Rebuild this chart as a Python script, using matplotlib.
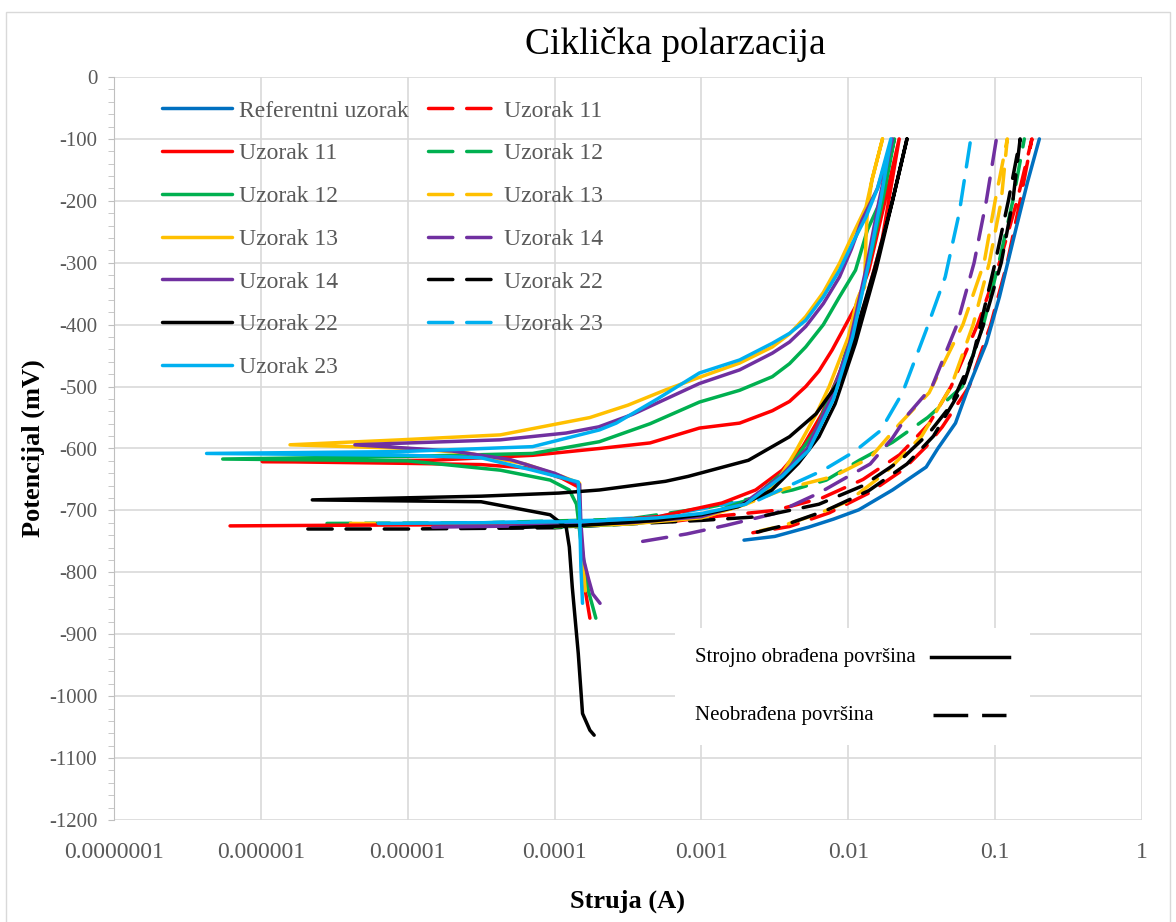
import matplotlib
matplotlib.use("Agg")
import matplotlib.pyplot as plt
from matplotlib.lines import Line2D
from matplotlib.patches import Rectangle
from matplotlib.ticker import FixedLocator, MultipleLocator, FuncFormatter, NullLocator

plt.rcParams["font.family"] = ["Liberation Serif", "DejaVu Serif"]
plt.rcParams["axes.unicode_minus"] = False

# --- data: current (A), potential (mV) ---
ref_i = [1.95e-3, 3.16e-3, 5.37e-3, 7.94e-3, 1.18e-2, 2.0e-2, 3.39e-2, 4.07e-2,
         5.37e-2, 6.61e-2, 8.71e-2, 0.107, 0.138, 0.166, 0.200]
ref_e = [-748, -742, -727, -714, -699, -667, -630, -600, -559, -500, -430, -355, -247, -170, -100]

# machined surface (solid): forward scan, then reverse scan
s11_i = [6.17e-7, 3.16e-6, 3.16e-5, 1.58e-4, 5.13e-4, 1.38e-3, 2.34e-3, 3.55e-3, 4.90e-3, 6.61e-3,
         7.76e-3, 1.02e-2, 1.32e-2, 1.70e-2, 2.22e-2,
         1.74e-2, 1.38e-2, 1.12e-2, 7.76e-3, 6.31e-3, 5.13e-3, 3.98e-3, 3.04e-3, 1.82e-3, 9.69e-4,
         4.47e-4, 2.02e-4,
         7.08e-5, 1.48e-5, 1.02e-6, 1.0e-5, 3.16e-5, 7.08e-5, 1.12e-4, 1.45e-4, 1.51e-4, 1.62e-4, 1.74e-4]
s11_e = [-725, -724, -723, -720, -710, -688, -667, -635, -597, -544,
         -506, -440, -360, -263, -100,
         -210, -312, -371, -441, -475, -500, -524, -539, -559, -567,
         -591, -600,
         -611, -619, -621, -624, -626, -632, -648, -662, -750, -830, -874]

s12_i = [1.0e-4, 3.16e-4, 1.0e-3, 2.24e-3, 3.98e-3, 6.03e-3, 8.71e-3, 1.15e-2, 1.48e-2, 1.78e-2, 2.06e-2,
         1.66e-2, 1.35e-2, 1.12e-2, 8.71e-3, 6.76e-3, 5.13e-3, 3.98e-3, 3.04e-3, 1.82e-3, 9.69e-4,
         4.47e-4, 2.02e-4,
         7.08e-5, 8.91e-6, 5.50e-7, 1.0e-5, 1.48e-5, 4.27e-5, 9.33e-5, 1.26e-4, 1.41e-4, 1.51e-4, 1.70e-4, 1.91e-4]
s12_e = [-727, -722, -710, -680, -630, -570, -480, -380, -270, -180, -100,
         -200, -247, -312, -355, -400, -436, -463, -484, -506, -525,
         -560, -589,
         -608, -613, -617, -620, -624, -635, -651, -667, -690, -750, -830, -874]

s13_i = [1.0e-4, 3.16e-4, 1.0e-3, 2.0e-3, 3.16e-3, 4.37e-3, 6.03e-3, 7.41e-3, 1.0e-2, 1.15e-2, 1.20e-2,
         1.29e-2, 1.32e-2, 1.35e-2, 1.45e-2, 1.71e-2,
         1.45e-2, 1.32e-2, 1.07e-2, 8.71e-3, 6.76e-3, 5.13e-3, 3.98e-3, 3.04e-3, 1.82e-3, 9.69e-4,
         5.75e-4, 3.16e-4, 1.74e-4,
         4.27e-5, 8.91e-6, 1.58e-6, 1.0e-5, 2.51e-5, 6.31e-5, 1.12e-4, 1.48e-4, 1.48e-4, 1.55e-4, 1.62e-4]
s13_e = [-726, -722, -712, -690, -660, -605, -545, -500, -420, -360, -349,
         -340, -260, -215, -166, -100,
         -166, -210, -255, -301, -348, -387, -415, -436, -462, -485,
         -505, -530, -550,
         -578, -586, -594, -600, -607, -625, -645, -656, -700, -780, -830]

s14_i = [1.48e-5, 6.31e-5, 3.16e-4, 1.0e-3, 1.91e-3, 3.47e-3, 5.25e-3, 7.59e-3, 1.02e-2, 1.32e-2, 1.62e-2, 2.0e-2,
         1.58e-2, 1.24e-2, 1.05e-2, 8.71e-3, 6.76e-3, 5.13e-3, 3.98e-3, 3.04e-3, 1.82e-3, 9.69e-4,
         3.39e-4, 2.0e-4, 1.20e-4,
         4.27e-5, 4.37e-6, 2.0e-5, 5.01e-5, 1.0e-4, 1.48e-4, 1.51e-4, 1.58e-4, 1.70e-4, 1.82e-4, 2.04e-4]
s14_e = [-727, -725, -720, -710, -690, -645, -600, -520, -430, -310, -200, -100,
         -180, -231, -278, -323, -366, -403, -428, -446, -473, -495,
         -545, -565, -575,
         -586, -594, -604, -618, -640, -658, -720, -780, -810, -835, -850]

s22_i = [5.01e-5, 1.58e-4, 5.01e-4, 1.0e-3, 1.78e-3, 3.02e-3, 4.57e-3, 6.31e-3, 8.13e-3, 1.12e-2, 1.55e-2,
         2.0e-2, 2.51e-2,
         2.0e-2, 1.51e-2, 1.07e-2, 8.71e-3, 6.03e-3, 3.98e-3, 2.09e-3, 8.13e-4, 5.69e-4, 2.02e-4, 1.07e-4,
         3.16e-5, 2.24e-6, 3.16e-5, 9.33e-5, 1.20e-4, 1.26e-4, 1.32e-4, 1.45e-4, 1.55e-4, 1.74e-4, 1.86e-4]
s22_e = [-728, -724, -716, -707, -694, -667, -624, -581, -528, -430, -310,
         -200, -100,
         -200, -310, -430, -491, -544, -581, -619, -645, -653, -667, -672,
         -677, -683, -686, -707, -727, -759, -824, -931, -1028, -1055, -1063]

s23_i = [6.31e-6, 3.16e-5, 1.58e-4, 5.01e-4, 1.0e-3, 2.0e-3, 3.55e-3, 5.37e-3, 7.94e-3, 1.07e-2, 1.38e-2,
         1.66e-2, 1.95e-2,
         1.58e-2, 1.32e-2, 1.07e-2, 8.71e-3, 6.76e-3, 5.13e-3, 3.98e-3, 3.04e-3, 1.82e-3, 9.69e-4,
         5.01e-4, 2.63e-4, 2.02e-4,
         7.08e-5, 8.91e-6, 4.27e-7, 1.0e-5, 3.16e-5, 7.08e-5, 1.45e-4, 1.48e-4, 1.51e-4, 1.55e-4]
s23_e = [-721, -720, -718, -712, -705, -690, -645, -603, -520, -420, -300,
         -200, -100,
         -180, -226, -268, -312, -355, -393, -414, -430, -457, -478,
         -520, -559, -570,
         -597, -605, -608, -611, -615, -635, -654, -700, -790, -850]

# untreated surface (dashed): forward scan, then reverse scan
u11_i = [3.16e-5, 1.58e-4, 6.31e-4, 1.0e-3, 3.16e-3, 6.61e-3, 1.26e-2, 2.24e-2, 3.55e-2, 5.01e-2,
         7.59e-2, 0.107, 0.141, 0.178,
         0.148, 0.121, 9.33e-2, 6.65e-2, 4.37e-2, 3.39e-2, 2.34e-2, 1.38e-2, 7.41e-3, 3.98e-3, 2.24e-3]
u11_e = [-724, -722, -718, -712, -700, -680, -650, -610, -560, -500,
         -400, -300, -200, -100,
         -200, -300, -400, -500, -565, -597, -635, -672, -704, -726, -736]

u12_i = [2.82e-6, 3.16e-5, 3.16e-4, 1.12e-3, 4.17e-3, 7.08e-3, 1.19e-2, 2.0e-2, 3.47e-2, 5.97e-2,
         8.32e-2, 0.106, 0.132, 0.158]
u12_e = [-721, -720, -714, -695, -667, -651, -619, -590, -550, -500, -400, -300, -200, -100]

u13_i = [4.07e-6, 3.16e-5, 3.16e-4, 1.0e-3, 2.0e-3, 3.72e-3, 7.94e-3, 1.41e-2, 2.24e-2, 3.55e-2,
         6.03e-2, 8.41e-2, 0.100, 0.121,
         0.110, 9.12e-2, 7.08e-2, 5.01e-2, 3.16e-2, 1.78e-2, 1.0e-2, 6.31e-3, 3.55e-3, 2.51e-3]
u13_e = [-721, -722, -720, -712, -690, -665, -645, -615, -560, -510,
         -400, -300, -200, -100,
         -200, -300, -400, -500, -580, -640, -685, -705, -725, -733]

u14_i = [3.98e-4, 7.94e-4, 1.48e-3, 3.16e-3, 6.31e-3, 1.0e-2, 1.41e-2, 2.0e-2, 2.57e-2, 3.72e-2,
         5.50e-2, 7.19e-2, 8.71e-2, 0.102]
u14_e = [-750, -738, -724, -705, -672, -645, -625, -583, -544, -500, -400, -300, -200, -100]

u22_i = [2.09e-6, 1.0e-5, 1.0e-4, 3.09e-4, 1.02e-3, 2.51e-3, 6.31e-3, 1.26e-2, 2.24e-2, 3.55e-2,
         5.01e-2, 7.08e-2, 0.100, 0.123, 0.148,
         0.132, 0.110, 8.32e-2, 6.03e-2, 3.80e-2, 2.51e-2, 1.38e-2, 7.08e-3, 3.55e-3, 2.40e-3]
u22_e = [-730, -730, -728, -722, -716, -710, -690, -660, -620, -575,
         -530, -450, -300, -200, -100,
         -200, -300, -400, -500, -580, -625, -668, -700, -725, -735]

u23_i = [6.31e-6, 3.16e-5, 1.82e-4, 5.13e-4, 1.48e-3, 2.45e-3, 3.72e-3, 6.76e-3, 1.10e-2, 1.66e-2,
         2.34e-2, 3.39e-2, 4.57e-2, 5.69e-2, 6.82e-2]
u23_e = [-722, -720, -716, -710, -690, -683, -663, -635, -605, -571, -510, -409, -323, -220, -100]

samples = ["Uzorak 11", "Uzorak 12", "Uzorak 13", "Uzorak 14", "Uzorak 22", "Uzorak 23"]
colors = ["#FF0000", "#00B050", "#FFC000", "#7030A0", "#000000", "#00B0F0"]
solid = [(s11_i, s11_e), (s12_i, s12_e), (s13_i, s13_e), (s14_i, s14_e), (s22_i, s22_e), (s23_i, s23_e)]
dashed = [(u11_i, u11_e), (u12_i, u12_e), (u13_i, u13_e), (u14_i, u14_e), (u22_i, u22_e), (u23_i, u23_e)]

x_ticks = [1e-7, 1e-6, 1e-5, 1e-4, 1e-3, 1e-2, 1e-1, 1]
x_labels = ["0.0000001", "0.000001", "0.00001", "0.0001", "0.001", "0.01", "0.1", "1"]

LW = 2.5
DASH = (0, (7, 4))
GRID = "#D9D9D9"
GREY = "#595959"

fig = plt.figure(figsize=(11.76, 9.22), dpi=100)
ax = fig.add_axes([114 / 1176, 1 - 820 / 922, 1028 / 1176, 743 / 922])

handles_solid, handles_dashed = [], []
for (xi, ye), c, name in zip(dashed, colors, samples):
    h, = ax.plot(xi, ye, color=c, lw=LW, ls=DASH, dash_capstyle="round", dash_joinstyle="round", label=name)
    handles_dashed.append(h)
for (xi, ye), c, name in zip(solid, colors, samples):
    h, = ax.plot(xi, ye, color=c, lw=LW, solid_capstyle="round", solid_joinstyle="round", label=name)
    handles_solid.append(h)
h_ref, = ax.plot(ref_i, ref_e, color="#0070C0", lw=LW, solid_capstyle="round", label="Referentni uzorak")

ax.set_xscale("log")
ax.set_xlim(1e-7, 1)
ax.set_ylim(-1200, 0)
ax.xaxis.set_major_locator(FixedLocator(x_ticks))
ax.xaxis.set_minor_locator(NullLocator())
ax.set_xticklabels(x_labels)
ax.yaxis.set_major_locator(MultipleLocator(100))
ax.yaxis.set_minor_locator(MultipleLocator(20))
ax.yaxis.set_major_formatter(FuncFormatter(lambda v, p: "%d" % v))

ax.grid(True, which="major", color=GRID, lw=1.2)
ax.set_axisbelow(True)
for s in ["top", "right", "bottom"]:
    ax.spines[s].set_visible(False)
ax.spines["left"].set_color("#BFBFBF")
ax.tick_params(axis="x", length=0, labelsize=17, labelcolor=GREY, pad=16)
ax.tick_params(axis="y", which="both", length=4, color="#BFBFBF", labelsize=15, labelcolor=GREY, pad=8)

ax.set_xlabel("Struja (A)", fontsize=19, fontweight="bold", labelpad=19)
ax.set_ylabel("Potencijal (mV)", fontsize=19, fontweight="bold", labelpad=3)
fig.text(675 / 1176, 1 - 45 / 922, "Ciklička polarzacija", fontsize=27, ha="center", va="center")

leg = ax.legend([h_ref] + handles_solid + handles_dashed,
                ["Referentni uzorak"] + samples + samples,
                ncol=2, loc="upper left", bbox_to_anchor=(0.047, 0.969), frameon=False,
                fontsize=17, labelcolor=GREY, handlelength=2.95, handletextpad=0.3,
                columnspacing=0.8, labelspacing=0.9, borderpad=0, borderaxespad=0)

# surface-type key
ax.add_patch(Rectangle((0.546, 0.101), 0.345, 0.157, transform=ax.transAxes,
                       facecolor="white", edgecolor="none", zorder=5))
ax.text(0.565, 0.219, "Strojno obrađena površina", transform=ax.transAxes, fontsize=15,
        va="center", ha="left", zorder=6)
ax.text(0.565, 0.141, "Neobrađena površina", transform=ax.transAxes, fontsize=15,
        va="center", ha="left", zorder=6)
ax.add_line(Line2D([0.795, 0.871], [0.219, 0.219], transform=ax.transAxes, color="black",
                   lw=LW, zorder=6))
ax.add_line(Line2D([0.797, 0.868], [0.141, 0.141], transform=ax.transAxes, color="black",
                   lw=LW, ls=(0, (10, 4)), zorder=6))

fig.patches.append(Rectangle((6 / 1176, -0.01), 1 - 12 / 1176, 1 - 12 / 922 + 0.01,
                             transform=fig.transFigure, fill=False, edgecolor=GRID, lw=1))

fig.savefig("out.png", dpi=100)
